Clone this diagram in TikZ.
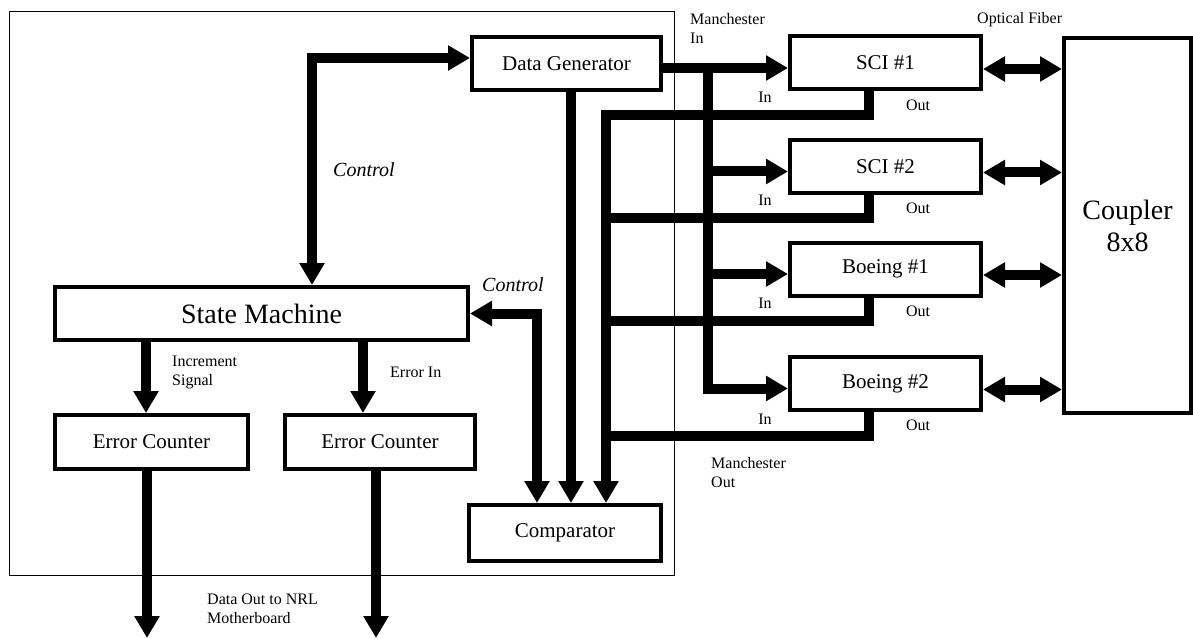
\documentclass[tikz,border=0pt]{standalone}
\usepackage{fontspec}
\setmainfont{Liberation Serif}
\usetikzlibrary{arrows.meta}

\begin{document}
\begin{tikzpicture}[x=1pt, y=-1pt, >={Triangle[length=22pt,width=24pt]},
        box/.style={draw, line width=4pt, inner sep=0pt, font=\fontsize{21}{24}\selectfont},
        bus/.style={line width=10pt},
        lbl/.style={inner sep=0pt, anchor=north west, align=left, font=\fontsize{16}{19}\selectfont},
        ctl/.style={inner sep=0pt, anchor=north west, font=\fontsize{20}{24}\selectfont\itshape}]
        \useasboundingbox (0,0) rectangle (1193,639);

        % Test board outline
        \draw[line width=1pt] (9,12) rectangle (674,575);

        % Blocks on the board
        \node[box, minimum width=189pt, minimum height=53pt] (dg) at (566.5,63.5) {Data Generator};
        \node[box, minimum width=413pt, minimum height=53pt, font=\fontsize{28}{32}\selectfont] (sm) at (261.5,313.5) {State Machine};
        \node[box, minimum width=193pt, minimum height=54pt] (ec1) at (151.5,442) {Error Counter};
        \node[box, minimum width=190pt, minimum height=54pt] (ec2) at (380,442) {Error Counter};
        \node[box, minimum width=192pt, minimum height=56pt] (cmp) at (565,533) {Comparator};

        % Units under test and the coupler
        \node[box, minimum width=191pt, minimum height=53pt] (sci1) at (885.5,63) {SCI \#1};
        \node[box, minimum width=191pt, minimum height=53pt] (sci2) at (885.5,166.5) {SCI \#2};
        \node[box, minimum width=191pt, minimum height=53pt] (boe1) at (885.5,269) {Boeing \#1};
        \node[box, minimum width=191pt, minimum height=53pt] (boe2) at (885.5,383.5) {Boeing \#2};
        \node[box, minimum width=127pt, minimum height=375pt, align=center, font=\fontsize{28}{32}\selectfont] (cpl) at (1127.5,225.5) {Coupler\\8x8};

        % Bus positions
        \coordinate (bus) at (708,0);
        \coordinate (ret) at (606,0);
        \coordinate (dgc) at (571,0);
        \coordinate (ctlc) at (537,0);
        \coordinate (ctla) at (312,58);
        \coordinate (inc) at (146,0);
        \coordinate (err) at (363,0);
        \coordinate (mb1) at (147,638);
        \coordinate (mb2) at (376,638);
        \coordinate (in1) at ([yshift=-5pt]sci1.west);
        \coordinate (in2) at ([yshift=-5pt]sci2.west);
        \coordinate (in3) at ([yshift=-5pt]boe1.west);
        \coordinate (in4) at ([yshift=-5pt]boe2.west);
        \coordinate (o1) at (869,115);
        \coordinate (o2) at (869,218);
        \coordinate (o3) at (869,321);
        \coordinate (o4) at (869,436);
        \coordinate (f1) at ([yshift=-6pt]sci1.east);
        \coordinate (f2) at ([yshift=-6pt]sci2.east);
        \coordinate (f3) at ([yshift=-6pt]boe1.east);
        \coordinate (f4) at ([yshift=-6pt]boe2.east);

        % Control lines
        \draw[bus,<->] (ctla |- sm.north) |- (ctla -| dg.west);
        \draw[bus,<->] (sm.east) -| (ctlc |- cmp.north);
        \draw[bus,->] (inc |- sm.south) -- (inc |- ec1.north);
        \draw[bus,->] (err |- sm.south) -- (err |- ec2.north);
        \draw[bus,->] (mb1 |- ec1.south) -- (mb1);
        \draw[bus,->] (mb2 |- ec2.south) -- (mb2);
        \draw[bus,->] (dgc |- dg.south) -- (dgc |- cmp.north);

        % Manchester in
        \draw[bus,->] (in1 -| dg.east) -- (in1);
        \draw[bus,->] (in1 -| bus) |- (in4);
        \draw[bus,->] (in2 -| bus) -- (in2);
        \draw[bus,->] (in3 -| bus) -- (in3);

        % Manchester out
        \draw[bus,->] (o1 |- sci1.south) -- (o1) -| (ret |- cmp.north);
        \draw[bus] (o2 |- sci2.south) -- (o2) -- (o2 -| ret);
        \draw[bus] (o3 |- boe1.south) -- (o3) -- (o3 -| ret);
        \draw[bus] (o4 |- boe2.south) -- (o4) -- (o4 -| ret);

        % Optical fiber
        \draw[bus,<->] (f1) -- (f1 -| cpl.west);
        \draw[bus,<->] (f2) -- (f2 -| cpl.west);
        \draw[bus,<->] (f3) -- (f3 -| cpl.west);
        \draw[bus,<->] (f4) -- (f4 -| cpl.west);

        % Labels
        \node[ctl] (lctl1) at (333,162) {Control};
        \node[ctl] (lctl2) at (482,277) {Control};
        \node[lbl] (lmin) at (690,13) {Manchester\\In};
        \node[lbl] (lmout) at (711,457) {Manchester\\Out};
        \node[lbl] (lfib) at (977,12) {Optical Fiber};
        \node[lbl] (linc) at (172,356) {Increment\\Signal};
        \node[lbl] (lerr) at (390,367) {Error In};
        \node[lbl] (lout) at (207,594) {Data Out to NRL\\Motherboard};
        \node[lbl, anchor=center] (in1l) at (765,97.5) {In};
        \node[lbl, anchor=center] (in2l) at (765,200) {In};
        \node[lbl, anchor=center] (in3l) at (765,303.5) {In};
        \node[lbl, anchor=center] (in4l) at (765,419) {In};
        \node[lbl, anchor=center] (out1l) at (918,105) {Out};
        \node[lbl, anchor=center] (out2l) at (918,208.5) {Out};
        \node[lbl, anchor=center] (out3l) at (918,311.5) {Out};
        \node[lbl, anchor=center] (out4l) at (918,425) {Out};
    \end{tikzpicture}
\end{document}
